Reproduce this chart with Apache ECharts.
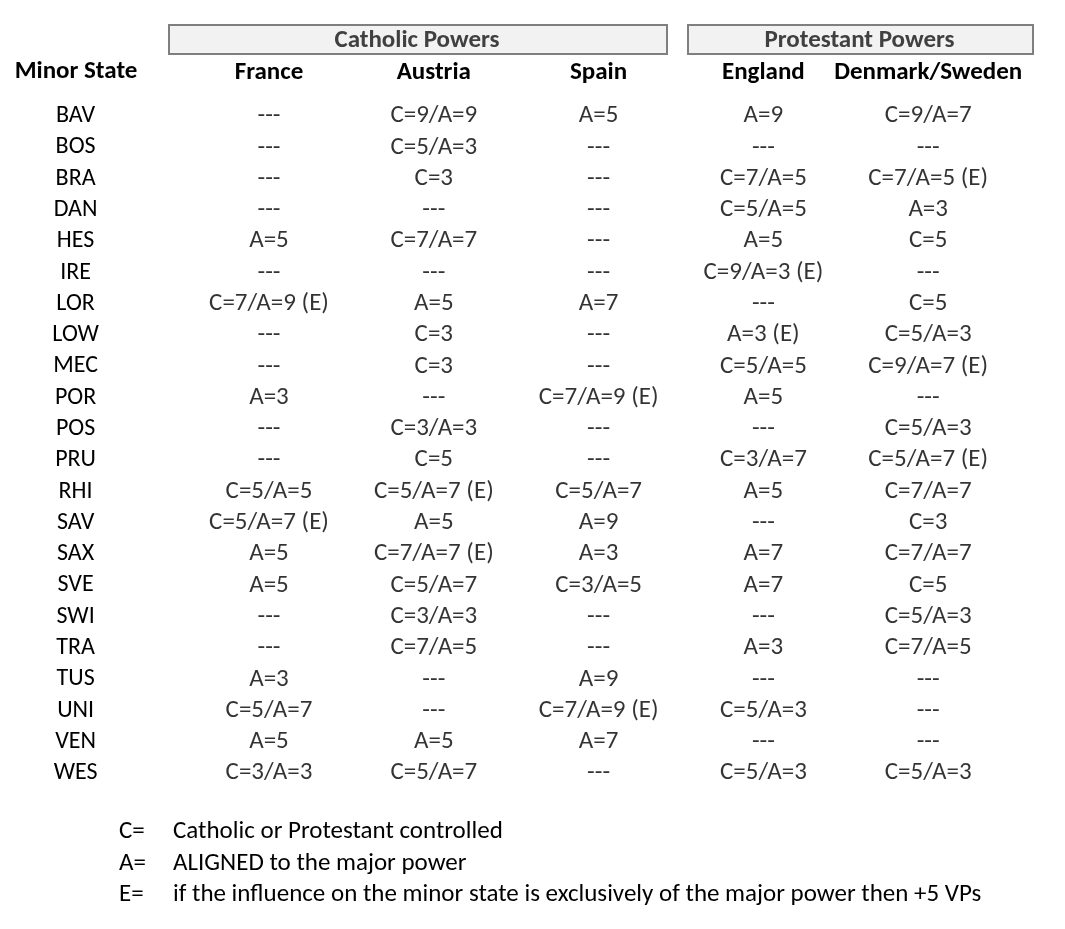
<!DOCTYPE html>
<html>
<head>
<meta charset="utf-8">
<title>Minor States</title>
<script src="https://cdn.jsdelivr.net/npm/echarts@6/dist/echarts.min.js"></script>
<style>
  html, body { margin: 0; padding: 0; background: #fff; }
  #main { width: 1065px; height: 929px; }
</style>
</head>
<body>
<div id="main"></div>
<script>
var FONT = 'Carlito, Lato, sans-serif';

// row + column headers
var states = ['BAV', 'BOS', 'BRA', 'DAN', 'HES', 'IRE', 'LOR', 'LOW', 'MEC', 'POR', 'POS',
    'PRU', 'RHI', 'SAV', 'SAX', 'SVE', 'SWI', 'TRA', 'TUS', 'UNI', 'VEN', 'WES'];
var powers = ['France', 'Austria', 'Spain', 'England', 'Denmark/Sweden'];

// cell values, one list per major power
var france = ['---', '---', '---', '---', 'A=5', '---', 'C=7/A=9 (E)', '---', '---', 'A=3', '---',
    '---', 'C=5/A=5', 'C=5/A=7 (E)', 'A=5', 'A=5', '---', '---', 'A=3', 'C=5/A=7', 'A=5', 'C=3/A=3'];
var austria = ['C=9/A=9', 'C=5/A=3', 'C=3', '---', 'C=7/A=7', '---', 'A=5', 'C=3', 'C=3', '---', 'C=3/A=3',
    'C=5', 'C=5/A=7 (E)', 'A=5', 'C=7/A=7 (E)', 'C=5/A=7', 'C=3/A=3', 'C=7/A=5', '---', '---', 'A=5', 'C=5/A=7'];
var spain = ['A=5', '---', '---', '---', '---', '---', 'A=7', '---', '---', 'C=7/A=9 (E)', '---',
    '---', 'C=5/A=7', 'A=9', 'A=3', 'C=3/A=5', '---', '---', 'A=9', 'C=7/A=9 (E)', 'A=7', '---'];
var england = ['A=9', '---', 'C=7/A=5', 'C=5/A=5', 'A=5', 'C=9/A=3 (E)', '---', 'A=3 (E)', 'C=5/A=5', 'A=5', '---',
    'C=3/A=7', 'A=5', '---', 'A=7', 'A=7', '---', 'A=3', '---', 'C=5/A=3', '---', 'C=5/A=3'];
var denSwe = ['C=9/A=7', '---', 'C=7/A=5 (E)', 'A=3', 'C=5', '---', 'C=5', 'C=5/A=3', 'C=9/A=7 (E)', '---', 'C=5/A=3',
    'C=5/A=7 (E)', 'C=7/A=7', 'C=3', 'C=7/A=7', 'C=5', 'C=5/A=3', 'C=7/A=5', '---', '---', '---', 'C=5/A=3'];

var groupNames = ['Catholic Powers', 'Protestant Powers'];
var keyCodes = ['C=', 'A=', 'E='];
var keyTexts = ['Catholic or Protestant controlled', 'ALIGNED to the major power',
    'if the influence on the minor state is exclusively of the major power then +5 VPs'];

var columns = [france, austria, spain, england, denSwe];

var chart = echarts.init(document.getElementById('main'));

var series = columns.map(function (col, p) {
    return {
        type: 'scatter',
        name: powers[p],
        symbolSize: 1,
        itemStyle: { color: 'rgba(0,0,0,0)' },
        silent: true,
        label: {
            show: true,
            position: 'inside',
            color: '#000',
            fontFamily: FONT,
            fontSize: 25,
            formatter: function (d) { return d.value[2]; }
        },
        data: col.map(function (v, i) { return [powers[p], states[i], v]; })
    };
});

var graphic = [];
var boxes = [[168, 24, 498, 29], [687, 24, 345, 29]];
boxes.forEach(function (b, i) {
    graphic.push({
        type: 'rect', left: b[0], top: b[1],
        shape: { width: b[2], height: b[3] },
        style: { fill: '#f2f2f2', stroke: '#7f7f7f', lineWidth: 2 }
    });
    graphic.push({
        type: 'text', x: b[0] + b[2] / 2, y: b[1] + b[3] / 2 + 2,
        style: {
            text: groupNames[i], fill: '#404040', font: 'bold 25px ' + FONT,
            textAlign: 'center', textVerticalAlign: 'middle'
        }
    });
});
graphic.push({
    type: 'text', x: 76, y: 72,
    style: {
        text: 'Minor State', fill: '#000', font: 'bold 25px ' + FONT,
        textAlign: 'center', textVerticalAlign: 'middle'
    }
});
keyCodes.forEach(function (c, i) {
    var y = 832 + i * 31.5;
    graphic.push({
        type: 'text', x: 119, y: y,
        style: { text: c, fill: '#000', font: '25px ' + FONT, textVerticalAlign: 'middle' }
    });
    graphic.push({
        type: 'text', x: 173, y: y,
        style: { text: keyTexts[i], fill: '#000', font: '25px ' + FONT, textVerticalAlign: 'middle' }
    });
});

chart.setOption({
    backgroundColor: '#fff',
    animation: false,
    grid: { left: 186.6, width: 824, top: 100.4, height: 688.4 },
    xAxis: {
        type: 'category',
        position: 'top',
        data: powers,
        axisLine: { show: false },
        axisTick: { show: false },
        splitLine: { show: false },
        axisLabel: {
            interval: 0,
            margin: 28,
            verticalAlign: 'middle',
            color: '#000',
            fontFamily: FONT,
            fontWeight: 'bold',
            fontSize: 25
        }
    },
    yAxis: {
        type: 'category',
        inverse: true,
        data: states,
        axisLine: { show: false },
        axisTick: { show: false },
        splitLine: { show: false },
        axisLabel: {
            interval: 0,
            margin: 111,
            align: 'center',
            color: '#000',
            fontFamily: FONT,
            fontSize: 24
        }
    },
    graphic: graphic,
    series: series
});
</script>
</body>
</html>
